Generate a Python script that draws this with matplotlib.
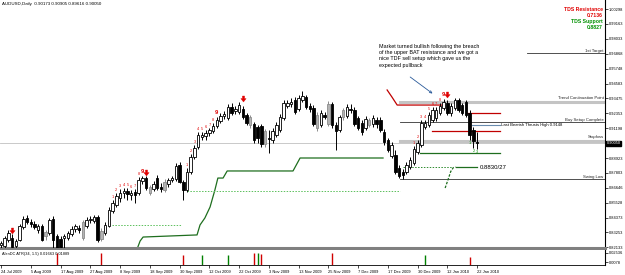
import numpy as np
import pandas as pd
import matplotlib
matplotlib.use("Agg")
import matplotlib.pyplot as plt
import matplotlib.transforms as mtransforms

plt.rcParams['font.family'] = ['Liberation Sans', 'DejaVu Sans']

# ---- data (AUDUSD daily) ----
opens = [.8229,.8221,.8267,.8283,.8221,.8267,.8367,.8435,.8405,.8390,
         .8344,.8374,.8328,.8321,.8428,.8298,.8275,.8283,.8283,.8313,
         .8351,.8359,.8283,.8374,.8420,.8412,.8443,.8275,.8321,.8374,
         .8489,.8534,.8588,.8626,.8641,.8611,.8634,.8626,.8717,.8740,
         .8672,.8657,.8740,.8672,.8649,.8695,.8725,.8733,.8840,.8710,
         .8649,.8786,.8901,.8977,.9053,.9061,.9084,.9099,.9137,.9175,
         .9213,.9198,.9282,.9252,.9244,.9267,.9221,.9206,.9152,.9129,
         .9137,.9099,.9046,.9030,.9068,.9107,.9198,.9290,.9305,.9336,
         .9267,.9336,.9358,.9290,.9274,.9221,.9145,.9221,.9152,.9305,
         .9145,.9107,.9206,.9213,.9267,.9259,.9198,.9160,.9122,.9183,
         .9152,.9183,.9183,.9091,.9030,.8908,.8916,.8817,.8786,.8786,
         .8824,.8855,.8939,.8992,.9129,.9145,.9183,.9198,.9236,.9274,
         .9313,.9236,.9274,.9336,.9297,.9320,.9236,.9107,.90173]
highs = [.8260,.8298,.8344,.8313,.8275,.8390,.8451,.8458,.8428,.8412,
         .8390,.8390,.8344,.8435,.8451,.8313,.8298,.8313,.8336,.8374,
         .8390,.8382,.8420,.8443,.8451,.8458,.8458,.8359,.8405,.8519,
         .8573,.8626,.8657,.8664,.8664,.8649,.8657,.8748,.8756,.8756,
         .8687,.8717,.8763,.8702,.8733,.8740,.8756,.8855,.8862,.8725,
         .8817,.8923,.8992,.9091,.9091,.9107,.9122,.9160,.9206,.9236,
         .9252,.9305,.9313,.9290,.9320,.9290,.9236,.9221,.9168,.9145,
         .9152,.9114,.9107,.9122,.9168,.9229,.9336,.9336,.9351,.9358,
         .9374,.9404,.9374,.9313,.9297,.9244,.9259,.9244,.9328,.9320,
         .9168,.9221,.9274,.9305,.9305,.9282,.9213,.9183,.9213,.9198,
         .9221,.9206,.9206,.9114,.9046,.9015,.8954,.8840,.8809,.8862,
         .8901,.8984,.9030,.9183,.9183,.9244,.9282,.9282,.9313,.9343,
         .9336,.9313,.9351,.9351,.9313,.9336,.9259,.9129,.90905]
lows = [.8206,.8206,.8252,.8206,.8206,.8260,.8351,.8390,.8367,.8351,
        .8321,.8260,.8267,.8306,.8206,.8199,.8199,.8206,.8267,.8298,
        .8328,.8321,.8267,.8359,.8397,.8397,.8252,.8260,.8306,.8367,
        .8473,.8519,.8557,.8588,.8573,.8573,.8550,.8611,.8695,.8649,
        .8611,.8641,.8649,.8634,.8634,.8672,.8710,.8717,.8702,.8573,
        .8634,.8771,.8885,.8962,.9030,.9030,.9061,.9084,.9122,.9160,
        .9191,.9183,.9221,.9229,.9229,.9191,.9145,.9122,.9007,.9007,
        .8977,.8977,.8931,.9007,.9053,.9091,.9183,.9274,.9282,.9229,
        .9252,.9320,.9267,.9244,.9137,.9099,.9129,.9191,.9137,.9122,
        .8954,.9091,.9183,.9198,.9236,.9137,.9107,.9068,.9107,.9129,
        .9129,.9122,.9091,.8992,.8939,.8893,.8771,.8740,.8733,.8771,
        .8809,.8840,.8923,.8977,.9114,.9129,.9168,.9175,.9221,.9259,
        .9221,.9213,.9259,.9244,.9221,.9206,.9030,.8969,.89616]
closes = [.8244,.8283,.8321,.8214,.8260,.8374,.8428,.8405,.8390,.8367,
          .8374,.8267,.8298,.8420,.8267,.8206,.8214,.8298,.8321,.8351,
          .8374,.8344,.8405,.8420,.8428,.8443,.8267,.8336,.8382,.8496,
          .8550,.8603,.8626,.8641,.8618,.8626,.8611,.8725,.8740,.8664,
          .8626,.8695,.8664,.8657,.8710,.8725,.8740,.8832,.8710,.8649,
          .8786,.8901,.8969,.9068,.9068,.9084,.9107,.9137,.9183,.9213,
          .9229,.9282,.9236,.9267,.9297,.9206,.9160,.9145,.9030,.9046,
          .9000,.9000,.9038,.9099,.9145,.9206,.9313,.9313,.9320,.9244,
          .9351,.9366,.9282,.9267,.9152,.9122,.9236,.9206,.9305,.9145,
          .9099,.9206,.9259,.9282,.9259,.9152,.9122,.9091,.9191,.9145,
          .9198,.9152,.9107,.9015,.8954,.8992,.8786,.8756,.8763,.8840,
          .8878,.8962,.9007,.9160,.9160,.9221,.9259,.9259,.9290,.9320,
          .9236,.9290,.9336,.9259,.9236,.9221,.9068,.9023,.90050]
gray_bars = [12, 22, 27, 40, 44, 67, 71, 85, 88, 92, 99]

date_labels = ['24 Jul 2009', '5 Aug 2009', '17 Aug 2009', '27 Aug 2009', '8 Sep 2009',
               '18 Sep 2009', '30 Sep 2009', '12 Oct 2009', '22 Oct 2009', '3 Nov 2009',
               '13 Nov 2009', '25 Nov 2009', '7 Dec 2009', '17 Dec 2009', '30 Dec 2009',
               '12 Jan 2010', '22 Jan 2010']

price_ticks = [1.00298, 0.99163, 0.98033, 0.96868, 0.95748, 0.94583, 0.93475, 0.92353,
               0.91198, 0.88923, 0.87803, 0.86646, 0.85528, 0.84373, 0.83253, 0.82133]
bid = 0.90050

# TD setup counts (bar, count) and sell arrows
sell_setup_bars = list(range(30, 39)) + list(range(50, 59)) + list(range(111, 120))
sell_setup_counts = list(range(1, 10)) * 3
buy_setup_bars = [126, 127, 128]
buy_setup_counts = [1, 2, 3]
arrow_bars = [3, 39, 65, 120]
arrow_prices = [0.8336, 0.8778, 0.9343, 0.9374]

# indicator lines
trail_x = [36.6, 37.4, 38.2, 52.7, 53.5, 54.8, 56.2, 57.5, 58.3, 59.7, 60.8, 78.5, 80.4, 102.7]
trail_y = [.8200, .8260, .8290, .8306, .8382, .8435, .8519, .8649, .8740, .8740, .8794, .8794, .8893, .8893]
support2_x, support2_y = [112.6, 134.1], [.8931, .8931]
dot1_x, dot1_y = [29.9, 48.7], [.8382, .8382]
dot2_x, dot2_y = [50.0, 107.3], [.8645, .8645]
dot3_x, dot3_y = [108.0, 121.4], [.8824, .8824]
curve_x = [119.4, 120.2, 120.9, 121.6, 122.2]
curve_y = [.8664, .8730, .8790, .8820, .8824]
flat_x, flat_y = [122.2, 128.0], [.8824, .8824]
red1_x = [103.8, 105.1, 106.5, 118.8]
red1_y = [.9412, .9358, .9297, .9297]
red2_x, red2_y = [125.3, 134.1], [.9236, .9236]
red3_x, red3_y = [115.9, 134.1], [.9099, .9099]
blue_x, blue_y = [126.6, 134.1], [.9145, .9145]

trend_cont = 0.9324
stoploss = 0.9026
buy_setup = 0.9168
swing_low = 0.8733
first_target = 0.9694

atr_bars = [15, 27, 49, 54, 61, 68, 69, 70, 89, 114, 126]
atr_vals = [0.0254, 0.0245, 0.0219, 0.0219, 0.0219, 0.0254, 0.0254, 0.0236, 0.0245, 0.0219, 0.0184]
atr_up = [False, False, False, True, True, False, True, False, False, True, False]

# ---- figure ----
W, H = 625, 275
fig = plt.figure(figsize=(W / 100, H / 100), dpi=100)
ax = fig.add_axes([0, 27 / H, 605 / W, 248 / H])
ax2 = fig.add_axes([0, 10 / H, 605 / W, 15 / H])

n = len(opens)
x = np.arange(n)
xmin, xmax = -0.27, 162.37
ax.set_xlim(xmin, xmax)
ax.set_ylim(0.82063, 1.00985)
ax2.set_xlim(xmin, xmax)
ax2.set_ylim(0.00253, 0.0306)

# bid line
ax.axhline(bid, color='#c0c0c0', lw=0.6, zorder=1)

# candles
for i in range(n):
    o, h, l, c = opens[i], highs[i], lows[i], closes[i]
    if i in gray_bars:
        fc, ec = '#b4b4b4', '#8c8c8c'
    elif c >= o:
        fc, ec = 'white', 'black'
    else:
        fc, ec = 'black', 'black'
    ax.vlines(i, l, h, color=ec, lw=0.7, zorder=3)
    bot = min(o, c)
    ht = max(abs(c - o), 0.0003)
    ax.bar(i, ht, bottom=bot, width=0.66, facecolor=fc, edgecolor=ec, lw=0.6, zorder=4)

# horizontal levels on the right
ax.plot([107.3, xmax], [trend_cont] * 2, color='#c4c4c4', lw=2.2, zorder=2)
ax.plot([107.3, xmax], [stoploss] * 2, color='#c4c4c4', lw=2.2, zorder=2)
ax.plot([107.3, xmax], [buy_setup] * 2, color='#333333', lw=0.6, zorder=2)
ax.plot([107.3, xmax], [swing_low] * 2, color='#333333', lw=0.6, zorder=2)
ax.plot([141.4, xmax], [first_target] * 2, color='#333333', lw=0.6, zorder=2)
lvl_kw = dict(ha='right', va='bottom', fontsize=3.1, color='#222222')
ax.text(162.0, first_target + 0.0003, '1st Target', **lvl_kw)
ax.text(162.0, trend_cont + 0.0009, 'Trend Continuation Point', **lvl_kw)
ax.text(162.0, buy_setup + 0.0003, 'Buy Setup Complete', **lvl_kw)
ax.text(162.0, stoploss + 0.0009, 'Stoploss', **lvl_kw)
ax.text(162.0, swing_low + 0.0003, 'Swing Low', **lvl_kw)

# indicator lines
ax.plot(trail_x, trail_y, color='#1e6e1e', lw=0.9, zorder=2)
ax.plot(support2_x, support2_y, color='#1e6e1e', lw=0.9, zorder=2)
ax.plot(dot1_x, dot1_y, color='#5cc05c', lw=0.7, ls=(0, (1.5, 1.5)), zorder=2)
ax.plot(dot2_x, dot2_y, color='#5cc05c', lw=0.7, ls=(0, (1.5, 1.5)), zorder=2)
ax.plot(dot3_x, dot3_y, color='#2e8b2e', lw=0.7, ls=(0, (1.5, 1.5)), zorder=2)
ax.plot(curve_x, curve_y, color='#1e6e1e', lw=0.9, ls=(0, (2, 1.2)), zorder=2)
ax.plot(flat_x, flat_y, color='#1e6e1e', lw=0.9, zorder=2)
ax.plot(red1_x, red1_y, color='#c00000', lw=0.9, zorder=2)
ax.plot(red2_x, red2_y, color='#c00000', lw=0.9, zorder=2)
ax.plot(red3_x, red3_y, color='#c00000', lw=0.9, zorder=2)
ax.plot(blue_x, blue_y, color='#6a8caf', lw=0.8, zorder=2)

ax.text(134.3, blue_y[0], 'Last Bearish Thrusts High 0.9148', fontsize=3.0,
        va='center', ha='left', color='black')
ax.text(128.8, flat_y[0], '0.8830/27', fontsize=4.3, va='center', ha='left', color='black')

# setup counts
for b, k in zip(sell_setup_bars, sell_setup_counts):
    if k == 9:
        ax.text(b, highs[b] + 0.0012, '9', color='#e00000', fontsize=4.2,
                fontweight='bold', ha='center', va='bottom', zorder=5)
    else:
        ax.text(b, highs[b] + 0.0008, str(k), color='#e00000', fontsize=2.8,
                ha='center', va='bottom', zorder=5)
for b, k in zip(buy_setup_bars, buy_setup_counts):
    ax.text(b, lows[b] - 0.0008, str(k), color='#009000', fontsize=2.8,
            ha='center', va='top', zorder=5)

arrow_marker = [(-0.3, 1), (0.3, 1), (0.3, 0.25), (0.75, 0.25), (0, -0.7),
                (-0.75, 0.25), (-0.3, 0.25), (-0.3, 1)]
ax.plot(arrow_bars, arrow_prices, ls='none', marker=arrow_marker, ms=5,
        mfc='#e00000', mec='#e00000', mew=0.3, zorder=6)

# annotation
ax.text(101.6, 0.9763, 'Market turned bullish following the breach\n'
        'of the upper BAT resistance and we got a\n'
        'nice TDF sell setup which gave us the\n'
        'expected pullback', fontsize=3.9, va='top', ha='left',
        linespacing=1.3, color='black')
ax.annotate('', xy=(116.0, 0.9385), xytext=(110.0, 0.9511),
            arrowprops=dict(arrowstyle='->', color='#2a5a9a', lw=0.6,
                            mutation_scale=4, shrinkA=0, shrinkB=0))

# TDS labels
tds_kw = dict(transform=ax.transAxes, ha='right', va='center', fontsize=3.7, fontweight='bold')
ax.text(0.9965, 0.963, 'TDS Resistance', color='#e00000', **tds_kw)
ax.text(0.9965, 0.939, '0.7136', color='#e00000', **tds_kw)
ax.text(0.9965, 0.915, 'TDS Support', color='#009000', **tds_kw)
ax.text(0.9965, 0.891, '0.8827', color='#009000', **tds_kw)

ax.text(0.003, 0.993, 'AUDUSD,Daily  0.90173 0.90905 0.89616 0.90050',
        transform=ax.transAxes, fontsize=3.2, va='top', ha='left')

# axes styling
for a in (ax, ax2):
    a.spines['top'].set_visible(False)
    a.spines['left'].set_visible(False)
    a.spines['right'].set_color('black')
    a.spines['right'].set_linewidth(0.8)
    a.yaxis.tick_right()
    a.tick_params(axis='y', labelsize=2.9, length=2, width=0.5, pad=1)
ax.spines['bottom'].set_color('#808080')
ax.spines['bottom'].set_linewidth(2.2)
ax.set_xticks([])
ax.set_yticks(price_ticks)
ax.set_yticklabels(['%.5f' % v for v in price_ticks])

trans = mtransforms.blended_transform_factory(ax.transAxes, ax.transData)
ax.plot([1.0, 1.004], [bid, bid], transform=trans, color='black', lw=0.5, clip_on=False)
ax.text(1.0025, bid, '0.90050', transform=trans, fontsize=2.9, color='white',
        va='center', ha='left',
        bbox=dict(boxstyle='square,pad=0.15', fc='black', ec='black'))

# lower ATR panel
ax2.spines['bottom'].set_linewidth(0.6)
for b, v, up in zip(atr_bars, atr_vals, atr_up):
    ax2.vlines(b, 0, v, color='#008000' if up else '#d00000', lw=1.0)
ax2.set_yticks([0.02536, 0.0078])
ax2.set_yticklabels(['0.02536', '0.0078'])
ax2.text(0.003, 0.72, 'AlenDC ATR(34, 1.5) 0.01663 0.01889', transform=ax2.transAxes,
         fontsize=2.8, va='center', ha='left')
ax2.set_xticks(np.arange(0, n, 8))
ax2.set_xticklabels(date_labels)
ax2.tick_params(axis='x', labelsize=2.9, length=2.5, width=0.5, pad=0.8)
for lab in ax2.get_xticklabels():
    lab.set_horizontalalignment('left')

fig.savefig('out.png', dpi=100)
